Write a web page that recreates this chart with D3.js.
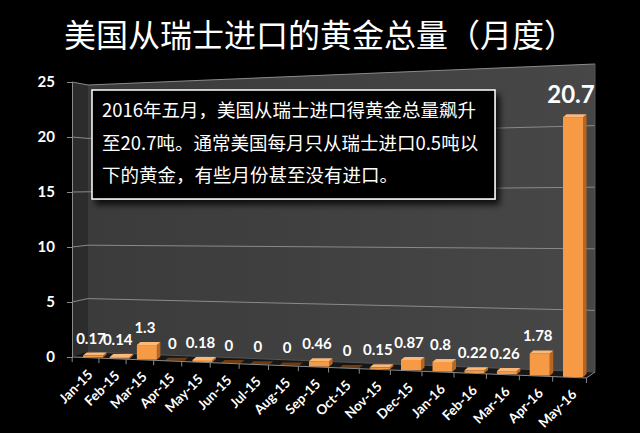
<!DOCTYPE html>
<html><head><meta charset="utf-8">
<script src="https://cdn.jsdelivr.net/npm/d3@7/dist/d3.min.js"></script>
<style>
html,body{margin:0;padding:0;background:#000;}
svg{display:block;}
</style></head>
<body>
<svg id="chart" width="640" height="433"></svg>
<script>
const categories = ["Jan-15","Feb-15","Mar-15","Apr-15","May-15","Jun-15","Jul-15","Aug-15","Sep-15","Oct-15","Nov-15","Dec-15","Jan-16","Feb-16","Mar-16","Apr-16","May-16"];
const values = [0.17,0.14,1.3,0,0.18,0,0,0,0.46,0,0.15,0.87,0.8,0.22,0.26,1.78,20.7];
const valueLabels = ["0.17","0.14","1.3","0","0.18","0","0","0","0.46","0","0.15","0.87","0.8","0.22","0.26","1.78","20.7"];
const yTicks = [0,5,10,15,20,25];
const titleText = "美国从瑞士进口的黄金总量（月度）";
const noteLines = ["2016年五月，美国从瑞士进口得黄金总量飙升","至20.7吨。通常美国每月只从瑞士进口0.5吨以","下的黄金，有些月份甚至没有进口。"];

const svg = d3.select("#chart");
const numFont = "Lato, 'Open Sans', sans-serif";
const cjkFont = "'Noto Sans CJK SC', sans-serif";

// perspective-ish scales
const depth = d3.scaleLinear().domain([0, categories.length - 1]).range([60.6, 76.6]);
const xBar = d3.scalePow().exponent(2).domain([60.6, 76.6]).range([93, 573]);
const xFront = d3.scalePow().exponent(2).domain([60.6, 76.6]).range([85.5, 569.5]);
const baseY = d3.scaleLinear().domain([93, 573]).range([357.5, 377]);
const unitPx = d3.scaleLinear().domain([93, 573]).range([11.1, 12.55]);
const floorY = d3.scaleLinear().domain([72, 587]).range([357, 378]);
const yFront = d3.scaleLinear().domain([0, 25]).range([357, 82]);
const yBackL = d3.scaleLinear().domain([0, 25]).range([352, 85]);
const yBackR = d3.scaleLinear().domain([0, 25]).range([372, 64]);
const xL = 72, xWL = 88, xWR = 595;

const defs = svg.append("defs");
const g1 = defs.append("linearGradient").attr("id","wall").attr("x1","0").attr("x2","1").attr("y1","0").attr("y2","0");
g1.append("stop").attr("offset","0").attr("stop-color","#3b3b3b");
g1.append("stop").attr("offset","1").attr("stop-color","#474747");
const sh = defs.append("filter").attr("id","shadow").attr("x","-10%").attr("y","-10%").attr("width","130%").attr("height","140%");
sh.append("feDropShadow").attr("dx",4).attr("dy",5).attr("stdDeviation",3).attr("flood-color","#000").attr("flood-opacity",0.8);

// walls
svg.append("polygon").attr("points", [[xL,yFront(25)],[xWL,yBackL(25)],[xWL,yBackL(0)],[xL,yFront(0)]].join(" ")).attr("fill","#2c2c2c");
svg.append("polygon").attr("points", [[xWL,yBackL(25)],[xWR,yBackR(25)],[xWR,yBackR(0)],[xWL,yBackL(0)]].join(" ")).attr("fill","url(#wall)");
// floor
svg.append("polygon").attr("points", [[xL,floorY(72)],[587,floorY(587)],[xWR,yBackR(0)],[xWL,yBackL(0)]].join(" ")).attr("fill","#161616");

// gridlines
const grid = svg.append("g").attr("stroke","#8a8a8a").attr("stroke-width",1).attr("fill","none");
yTicks.filter(v => v > 0).forEach(v => {
  grid.append("polyline").attr("points", [[xL, yFront(v)],[xWL, yBackL(v)],[xWR, yBackR(v)]].join(" "));
});
grid.append("line").attr("x1",xWR).attr("x2",xWR).attr("y1",yBackR(25)).attr("y2",yBackR(0)).attr("stroke","#555");
grid.append("line").attr("x1",xWL).attr("x2",xWR).attr("y1",yBackL(0)).attr("y2",yBackR(0)).attr("stroke","#555");

// y axis
const yAxis = d3.axisLeft(yFront).tickValues(yTicks).tickSize(5).tickPadding(12).tickFormat(d3.format("d"));
const ya = svg.append("g").attr("transform", `translate(${xL},0)`).call(yAxis);
ya.select(".domain").attr("stroke","#8a8a8a");
ya.selectAll(".tick line").attr("stroke","#8a8a8a");
ya.selectAll(".tick text").attr("fill","#fff").attr("font-family",numFont).attr("font-weight",700).attr("font-size",15);

// bars
const dx = 3.5, dy = -3, hw = 10;
const bars = svg.append("g");
values.forEach((v, i) => {
  const cx = xBar(depth(i));
  const b = baseY(cx);
  const ys = d3.scaleLinear().domain([0, 1]).range([b, b - unitPx(cx)]);
  const top = ys(v);
  const x0 = cx - hw, x1 = cx + hw;
  const g = bars.append("g");
  if (v > 0) {
    g.append("polygon").attr("points", [[x1,top],[x1+dx,top+dy],[x1+dx,b+dy],[x1,b]].join(" ")).attr("fill","#b8651f");
    g.append("rect").attr("x",x0).attr("y",top).attr("width",x1-x0).attr("height",b-top).attr("fill","#f79a45");
    g.append("polygon").attr("points", [[x0,top],[x0+dx,top+dy],[x1+dx,top+dy],[x1,top]].join(" ")).attr("fill","#fbb878");
  } else {
    g.append("polygon").attr("points", [[x0,top],[x0+dx,top+dy],[x1+dx,top+dy],[x1,top]].join(" ")).attr("fill","#6e3c14");
  }
  const big = v > 10;
  svg.append("text").attr("x", cx - 2).attr("y", top + dy - (big ? 11 : 9))
    .attr("text-anchor","middle").attr("fill","#fff").attr("font-family",numFont).attr("font-weight",700)
    .attr("font-size", big ? 24 : 15).text(valueLabels[i]);
});

// floor front edge and ticks
const fr = svg.append("g").attr("stroke","#8a8a8a").attr("stroke-width",1);
const xs = xFront(depth(-0.5)), xe = xFront(depth(categories.length - 0.5));
fr.append("line").attr("x1",xs).attr("y1",floorY(xs)).attr("x2",xe).attr("y2",floorY(xe));
fr.append("line").attr("x1",xe).attr("y1",floorY(xe)).attr("x2",xWR).attr("y2",yBackR(0));
for (let j = 0; j <= categories.length; j++) {
  const x = xFront(depth(j - 0.5));
  fr.append("line").attr("x1",x).attr("y1",floorY(x)).attr("x2",x).attr("y2",floorY(x)+5);
}

// category labels
categories.forEach((c, i) => {
  const xf = xFront(depth(i));
  const x = xf + 8;
  const y = floorY(xf) + 18;
  svg.append("text").attr("transform", `translate(${x},${y}) rotate(-45)`)
    .attr("text-anchor","end").attr("fill","#fff").attr("font-family",numFont).attr("font-weight",700)
    .attr("font-size",13.5).text(c);
});

// annotation box
svg.append("rect").attr("x",92).attr("y",90).attr("width",403).attr("height",109)
  .attr("fill","#000").attr("stroke","#fff").attr("stroke-width",1.5).attr("filter","url(#shadow)");
noteLines.forEach((t, k) => {
  svg.append("text").attr("x",102).attr("y",117 + k*32.5).attr("fill","#fff")
    .attr("font-family",cjkFont).attr("font-size",18.5).text(t);
});

// title
svg.append("text").attr("x",320).attr("y",47).attr("text-anchor","middle").attr("fill","#fff")
  .attr("font-family",cjkFont).attr("font-size",32).text(titleText);
</script>
</body></html>
